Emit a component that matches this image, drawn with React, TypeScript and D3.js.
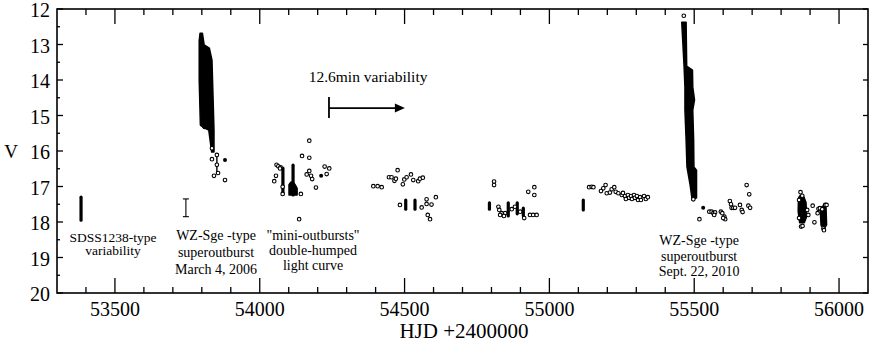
import React from 'react';
import * as d3 from 'd3';

const width = 872;
const height = 343;
const plot = { left: 57, top: 9, right: 868, bottom: 293 };

const xMajor = [53500, 54000, 54500, 55000, 55500, 56000];
const yMajor = [12, 13, 14, 15, 16, 17, 18, 19, 20];

// open-circle photometry, [HJD-2400000, V]
const obs2006 = [
  [53835, 15.92], [53835, 16.23], [53852, 16.11], [53856, 16.62], [53842, 16.70],
  [53880, 16.82], [53852, 16.39],
];
const obs2007 = [
  [54050, 16.85], [54056, 16.70], [54058, 16.39], [54064, 16.43], [54072, 16.46],
  [54070, 16.49], [54079, 17.01], [54079, 17.21], [54142, 17.21], [54136, 17.92],
  [54146, 16.14], [54171, 15.71], [54171, 16.19], [54162, 16.66], [54171, 16.56],
  [54177, 16.70], [54181, 16.79], [54194, 17.03], [54224, 16.44], [54240, 16.49],
  [54231, 16.65],
];
const obs2008 = [
  [54392, 16.99], [54407, 16.99], [54421, 17.02], [54446, 16.74], [54455, 16.74],
  [54465, 16.84], [54470, 16.78], [54476, 16.54], [54494, 16.94], [54499, 16.80],
  [54507, 16.74], [54522, 16.66], [54530, 16.82], [54547, 16.85], [54553, 16.78],
  [54563, 16.75], [54484, 17.52], [54559, 17.59], [54576, 17.36], [54576, 17.49],
  [54593, 17.51], [54608, 17.30], [54580, 17.80], [54588, 17.92],
];
const obs2009 = [
  [54809, 16.86], [54809, 16.96], [54824, 17.57], [54827, 17.66], [54835, 17.75],
  [54830, 17.80], [54870, 17.64], [54881, 17.57], [54899, 17.71], [54927, 17.15],
  [54948, 17.02], [54948, 17.24], [54933, 17.80], [54944, 17.80], [54956, 17.80],
  [54913, 17.89], [54847, 17.75], [54843, 17.83],
];
const obs2010a = [
  [55137, 17.02], [55146, 17.01], [55152, 17.02], [55178, 17.13], [55186, 17.05],
  [55194, 16.96], [55198, 17.19], [55209, 17.17], [55215, 17.08], [55224, 17.02],
  [55229, 17.15], [55238, 17.19], [55250, 17.24], [55254, 17.18], [55261, 17.27],
  [55264, 17.35], [55271, 17.24], [55275, 17.32], [55282, 17.27], [55285, 17.35],
  [55292, 17.24], [55295, 17.32], [55302, 17.27], [55306, 17.38], [55313, 17.30],
  [55316, 17.38], [55327, 17.27], [55333, 17.35], [55340, 17.30],
];
const obs2010b = [
  [55464, 12.19], [55497, 17.36], [55518, 17.92], [55552, 17.71], [55560, 17.71],
  [55566, 17.75], [55572, 17.73], [55569, 17.80], [55592, 17.71], [55597, 17.75],
  [55604, 17.85], [55607, 17.92], [55600, 17.89], [55623, 17.41], [55627, 17.50],
  [55629, 17.60], [55635, 17.60], [55641, 17.60], [55658, 17.52], [55664, 17.66],
  [55667, 17.72], [55681, 16.96], [55690, 17.22], [55687, 17.54], [55693, 17.60],
];
const obs2011 = [
  [55867, 17.16], [55873, 17.26], [55869, 18.13], [55874, 18.11], [55890, 17.66],
  [55894, 17.80], [55909, 17.54], [55915, 18.01], [55929, 17.63], [55934, 17.61],
  [55942, 17.64], [55926, 17.75], [55952, 17.52], [55957, 17.52], [55946, 18.18],
  [55948, 18.23], [55862, 17.38], [55862, 17.89],
];

// single filled points
const filledObs = [[53809, 15.33], [53880, 16.25], [54212, 16.70], [55531, 17.60]];

// dense time-series runs, [HJD, V bright, V faint]
const denseRuns = [
  [53383, 17.30, 17.95],
  [54080, 16.48, 17.22],
  [54115, 16.40, 17.24],
  [54504, 17.38, 17.64],
  [54536, 17.38, 17.64],
  [54793, 17.46, 17.64],
  [54858, 17.46, 17.83],
  [54889, 17.46, 17.77],
  [54910, 17.61, 17.83],
  [55117, 17.38, 17.66],
];
const sparseRuns = [[53852, 16.06, 16.62]];

// envelopes of the densest sampling, [HJD, V]
const outburst2006 = [
  [53794, 12.68], [53802, 12.68], [53808, 13.01], [53826, 13.10], [53835, 13.44],
  [53839, 14.56], [53842, 15.41], [53842, 16.03], [53834, 16.03], [53824, 15.41],
  [53808, 15.35], [53795, 15.27], [53791, 14.0], [53791, 12.9],
];
const outburst2010 = [
  [55457, 12.37], [55465, 13.61], [55468, 14.20], [55468, 14.85], [55472, 15.69],
  [55475, 16.45], [55486, 16.96], [55493, 17.38], [55508, 17.32], [55508, 16.54],
  [55499, 16.45], [55498, 15.69], [55495, 14.85], [55501, 14.56], [55495, 14.20],
  [55494, 13.72], [55474, 13.61], [55472, 12.37],
];
const miniBlob = [
  [54101, 17.24], [54101, 16.95], [54108, 16.87], [54115, 16.87], [54122, 16.95],
  [54129, 17.05], [54129, 17.24],
];
const season2011a = [
  [55860, 17.32], [55866, 17.25], [55878, 17.28], [55886, 17.45], [55888, 17.85],
  [55880, 18.02], [55864, 18.02], [55859, 17.70],
];
const season2011b = [
  [55935, 17.62], [55944, 17.55], [55955, 17.58], [55957, 18.08], [55950, 18.17],
  [55938, 18.10],
];

// error bar of the 2005 variability amplitude
const errBar = [53745, 17.35, 17.85];

// 12.6 min variability marker: [HJD start, HJD end, V]
const arrowMark = [54239, 54501, 14.79];

const notes = [
  { hjd: 53493, v: 18.55, lh: 13.5, size: 13.5, lines: ['SDSS1238-type', 'variability'] },
  { hjd: 53849, v: 18.51, lh: 17, size: 14, lines: ['WZ-Sge -type', 'superoutburst', 'March 4, 2006'] },
  { hjd: 54184, v: 18.51, lh: 15, size: 14, lines: ['"mini-outbursts"', 'double-humped', 'light curve'] },
  { hjd: 55517, v: 18.65, lh: 15.5, size: 14, lines: ['WZ-Sge -type', 'superoutburst', 'Sept. 22, 2010'] },
  { hjd: 54374, v: 14.06, lh: 0, size: 15.5, lines: ['12.6min variability'] },
];

const font = '"Liberation Serif", "Times New Roman", serif';

export default function App() {
  const x = d3.scaleLinear().domain([53300, 56100]).range([plot.left, plot.right]);
  const y = d3.scaleLinear().domain([12, 20]).range([plot.top, plot.bottom]);
  const poly = d3.line<number[]>().x(d => x(d[0])).y(d => y(d[1]));

  const xMinor = d3.range(53400, 56100, 100).filter(v => !xMajor.includes(v));
  const yMinor = d3.range(12.5, 20, 1);

  const allCircles = [
    ...obs2006, ...obs2007, ...obs2008, ...obs2009, ...obs2010a, ...obs2010b, ...obs2011,
  ];
  const blobs = [outburst2006, outburst2010, miniBlob, season2011a, season2011b];

  const [ex, eTop, eBot] = errBar;
  const [a0, a1, av] = arrowMark;

  return (
    <svg width={width} height={height} style={{ position: 'absolute', left: 0, top: 0 }}
      fontFamily={font}>
      <rect x={0} y={0} width={width} height={height} fill="white" />

      {/* ticks */}
      <g stroke="black" strokeWidth={1.3}>
        {xMajor.map(v => (
          <g key={'xm' + v}>
            <line x1={x(v)} x2={x(v)} y1={plot.bottom} y2={plot.bottom - 15} />
            <line x1={x(v)} x2={x(v)} y1={plot.top} y2={plot.top + 15} />
          </g>
        ))}
        {xMinor.map(v => (
          <g key={'xn' + v}>
            <line x1={x(v)} x2={x(v)} y1={plot.bottom} y2={plot.bottom - 6} />
            <line x1={x(v)} x2={x(v)} y1={plot.top} y2={plot.top + 6} />
          </g>
        ))}
        {yMajor.map(v => (
          <g key={'ym' + v}>
            <line x1={plot.left} x2={plot.left + 6} y1={y(v)} y2={y(v)} />
            <line x1={plot.right} x2={plot.right - 5} y1={y(v)} y2={y(v)} />
          </g>
        ))}
        {yMinor.map(v => (
          <line key={'yn' + v} x1={plot.left} x2={plot.left + 3} y1={y(v)} y2={y(v)} />
        ))}
      </g>

      {/* tick labels */}
      <g fontSize={20} fill="black">
        {xMajor.map(v => (
          <text key={'xl' + v} x={x(v)} y={plot.bottom + 23} textAnchor="middle">{v}</text>
        ))}
        {yMajor.map(v => (
          <text key={'yl' + v} x={plot.left - 7} y={y(v) + 1} dy="0.35em" textAnchor="end">{v}</text>
        ))}
      </g>
      <text x={11} y={158} fontSize={19} textAnchor="middle">V</text>
      <text x={464} y={337.5} fontSize={21} textAnchor="middle">HJD +2400000</text>

      {/* dense sampling */}
      <g fill="black" stroke="black" strokeWidth={1.5} strokeLinejoin="round">
        {blobs.map((b, i) => <path key={'b' + i} d={poly(b) + 'Z'} />)}
      </g>
      <g stroke="black" strokeWidth={3.2} strokeLinecap="round">
        {denseRuns.map((r, i) => (
          <line key={'r' + i} x1={x(r[0])} x2={x(r[0])} y1={y(r[1])} y2={y(r[2])} />
        ))}
      </g>
      <g stroke="black" strokeWidth={1.4}>
        {sparseRuns.map((r, i) => (
          <line key={'s' + i} x1={x(r[0])} x2={x(r[0])} y1={y(r[1])} y2={y(r[2])} />
        ))}
      </g>

      {/* individual points */}
      <g fill="white" stroke="black" strokeWidth={1.1}>
        {allCircles.map((d, i) => <circle key={'c' + i} cx={x(d[0])} cy={y(d[1])} r={1.8} />)}
      </g>
      <g fill="black">
        {filledObs.map((d, i) => <circle key={'f' + i} cx={x(d[0])} cy={y(d[1])} r={2} />)}
      </g>

      {/* error bar */}
      <g stroke="black" strokeWidth={1.1}>
        <line x1={x(ex)} x2={x(ex)} y1={y(eTop)} y2={y(eBot)} />
        <line x1={x(ex) - 3} x2={x(ex) + 3} y1={y(eTop)} y2={y(eTop)} />
        <line x1={x(ex) - 3} x2={x(ex) + 3} y1={y(eBot)} y2={y(eBot)} />
      </g>

      {/* 12.6 min arrow */}
      <g stroke="black" strokeWidth={1.8}>
        <line x1={x(a0)} x2={x(a0)} y1={y(av) - 11} y2={y(av) + 10} />
        <line x1={x(a0)} x2={x(a1) - 6} y1={y(av)} y2={y(av)} />
      </g>
      <path d={`M${x(a1)},${y(av)} L${x(a1) - 10},${y(av) - 4.5} L${x(a1) - 10},${y(av) + 4.5} Z`}
        fill="black" />

      {/* annotations */}
      <g fill="black" textAnchor="middle">
        {notes.map((n, i) => (
          <text key={'n' + i} x={x(n.hjd)} y={y(n.v)} fontSize={n.size}>
            {n.lines.map((l, j) => (
              <tspan key={j} x={x(n.hjd)} dy={j === 0 ? 0 : n.lh}>{l}</tspan>
            ))}
          </text>
        ))}
      </g>

      <rect x={plot.left} y={plot.top} width={plot.right - plot.left} height={plot.bottom - plot.top}
        fill="none" stroke="black" strokeWidth={1.6} />
    </svg>
  );
}
